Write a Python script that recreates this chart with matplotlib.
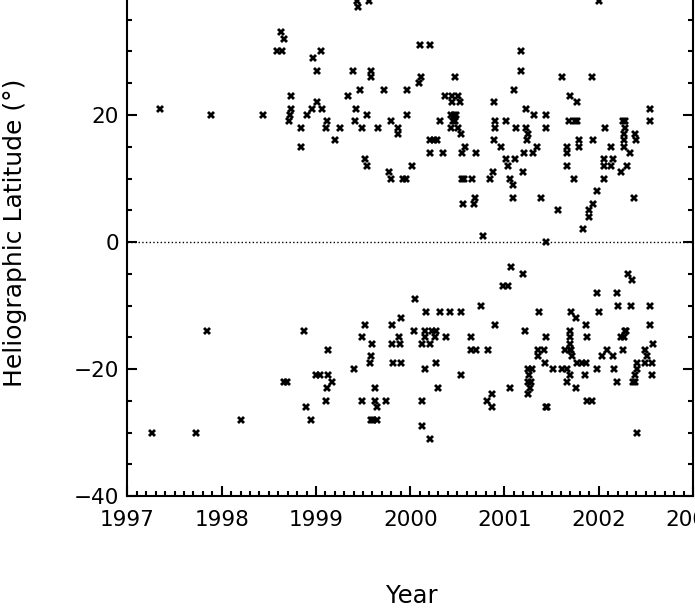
import numpy as np
import matplotlib
matplotlib.use("Agg")
import matplotlib.pyplot as plt
from matplotlib.ticker import MultipleLocator

# northern hemisphere events: decimal year, latitude (deg)
north_year = [
    1997.35, 1997.89, 1998.44,
    1999.44, 1999.56, 1999.45, 1998.63, 1998.66, 1998.59, 1998.64, 1998.97,
    1999.05, 1999.01, 1999.39, 1999.58, 1999.58, 1999.47, 1999.72, 1999.97,
    1998.74, 1999.34, 1999.01, 1998.74, 1998.96, 1999.06, 1999.43, 1998.72,
    1998.90, 1999.54, 1999.97, 1998.71, 1999.12, 1999.41, 1999.80, 1998.84,
    1999.11, 1999.25, 1999.49, 1999.66, 1999.87, 1999.87, 1999.20, 1998.84,
    1999.52, 1999.54, 1999.78, 1999.80, 1999.92, 1999.96,
    2000.10, 2000.21, 2001.18, 2001.18, 2000.11, 2000.09, 2000.47, 2001.10,
    2000.37, 2000.44, 2000.51, 2000.44, 2000.53, 2000.89, 2001.23, 2000.43,
    2000.46, 2000.49, 2001.31, 2001.44, 2000.32, 2000.45, 2000.47, 2000.90,
    2001.02, 2000.43, 2000.51, 2000.90, 2001.12, 2001.23, 2001.44, 2000.54,
    2001.25, 2000.21, 2000.25, 2000.28, 2000.89, 2001.24, 2000.58, 2000.96,
    2001.35, 2000.21, 2000.35, 2000.55, 2000.70, 2001.21, 2001.30, 2001.02,
    2001.11, 2000.02, 2001.04, 2000.88, 2001.20, 2000.55, 2000.57, 2000.66,
    2000.85, 2001.06, 2001.09, 2000.69, 2001.09, 2001.39, 2000.56, 2000.68,
    2000.77, 2001.44,
    2002.00, 2001.61, 2001.93, 2001.69, 2001.77, 2002.54, 2001.68, 2001.75,
    2001.77, 2002.26, 2002.28, 2002.54, 2002.07, 2002.28, 2002.27, 2002.38,
    2001.79, 2001.79, 2001.94, 2002.40, 2002.27, 2001.66, 2002.13, 2002.27,
    2001.66, 2002.33, 2002.06, 2002.15, 2001.66, 2002.06, 2002.13, 2002.30,
    2002.24, 2001.74, 2002.06, 2001.98, 2002.37, 2001.94, 2001.57, 2001.90,
    2001.90, 2001.83,
]
north_lat = [
    21, 20, 20,
    38, 38, 37, 33, 32, 30, 30, 29,
    30, 27, 27, 27, 26, 24, 24, 24,
    23, 23, 22, 21, 21, 21, 21, 20,
    20, 20, 20, 19, 19, 19, 19, 18,
    18, 18, 18, 18, 18, 17, 16, 15,
    13, 12, 11, 10, 10, 10,
    31, 31, 30, 27, 26, 25, 26, 24,
    23, 23, 23, 22, 22, 22, 21, 20,
    20, 20, 20, 20, 19, 19, 19, 19,
    19, 18, 18, 18, 18, 18, 18, 17,
    17, 16, 16, 16, 16, 16, 15, 15,
    15, 14, 14, 14, 14, 14, 14, 13,
    13, 12, 12, 11, 11, 10, 10, 10,
    10, 10, 9, 7, 7, 7, 6, 6,
    1, 0,
    38, 26, 26, 23, 22, 21, 19, 19,
    19, 19, 19, 19, 18, 18, 17, 17,
    16, 15, 16, 16, 16, 15, 15, 15,
    14, 14, 13, 13, 12, 12, 12, 12,
    11, 10, 10, 8, 7, 6, 5, 5,
    4, 2,
]

# southern hemisphere events
south_year = [
    1997.26, 1997.73, 1997.84, 1998.21,
    1998.87, 1999.13, 1999.00, 1999.04, 1999.13, 1998.66, 1998.69, 1999.17,
    1999.12, 1999.11, 1998.89, 1998.95, 1999.52, 1999.81, 1999.90, 1999.49,
    1999.88, 1999.59, 1999.81, 1999.89, 1999.58, 1999.57, 1999.82, 1999.90,
    1999.40, 1999.63, 1999.49, 1999.63, 1999.74, 1999.65, 1999.58, 1999.61,
    1999.65,
    2001.07, 2001.20, 2000.98, 2001.04, 2000.05, 2000.75, 2000.17, 2000.32,
    2000.42, 2000.54, 2001.37, 2000.90, 2000.04, 2000.16, 2000.23, 2000.27,
    2001.22, 2000.16, 2000.26, 2000.38, 2000.64, 2001.44, 2000.13, 2000.21,
    2000.64, 2000.70, 2000.83, 2001.36, 2001.42, 2001.36, 2000.27, 2001.43,
    2000.16, 2001.25, 2001.29, 2000.54, 2001.26, 2001.25, 2001.28, 2000.30,
    2001.06, 2001.27, 2000.87, 2001.25, 2000.12, 2000.82, 2000.87, 2001.44,
    2000.12, 2000.21,
    2002.31, 2002.35, 2001.98, 2002.19, 2002.20, 2002.34, 2002.54, 2001.71,
    2002.00, 2001.76, 2001.87, 2002.54, 2001.70, 2002.28, 2002.29, 2001.69,
    2001.88, 2002.24, 2002.27, 2001.69, 2002.58, 2001.64, 2001.69, 2001.71,
    2002.09, 2002.26, 2002.49, 2001.72, 2002.03, 2002.15, 2002.51, 2001.77,
    2001.82, 2001.86, 2002.41, 2002.49, 2002.56, 2001.51, 2001.61, 2001.66,
    2001.98, 2002.16, 2002.41, 2001.70, 2001.85, 2002.38, 2002.56, 2001.66,
    2002.19, 2002.36, 2002.39, 2001.76, 2001.88, 2001.93, 2001.45, 2002.41,
]
south_lat = [
    -30, -30, -14, -28,
    -14, -17, -21, -21, -21, -22, -22, -22,
    -23, -25, -26, -28, -13, -13, -12, -15,
    -15, -16, -16, -16, -18, -19, -19, -19,
    -20, -23, -25, -25, -25, -26, -28, -28,
    -28,
    -4, -5, -7, -7, -9, -10, -11, -11,
    -11, -11, -11, -13, -14, -14, -14, -14,
    -14, -15, -15, -15, -15, -15, -16, -16,
    -17, -17, -17, -17, -17, -18, -19, -19,
    -20, -20, -20, -21, -21, -22, -22, -23,
    -23, -23, -24, -24, -25, -25, -26, -26,
    -29, -31,
    -5, -6, -8, -8, -10, -10, -10, -11,
    -11, -12, -13, -13, -14, -14, -14, -15,
    -15, -15, -15, -16, -16, -17, -17, -17,
    -17, -17, -17, -18, -18, -18, -18, -19,
    -19, -19, -19, -19, -19, -20, -20, -20,
    -20, -20, -20, -21, -21, -21, -21, -22,
    -22, -22, -22, -23, -25, -25, -26, -30,
]

plt.rcParams['font.family'] = ['DejaVu Sans']

fig = plt.figure(figsize=(6.95, 6.10), dpi=100)
# axes runs off the top of the canvas, like the cropped original
ax = fig.add_axes([127.4 / 695, 114 / 610, (693 - 127.4) / 695, 508 / 610])

ax.plot(north_year, north_lat, linestyle='none', marker='X', ms=5.5,
        color='black', mew=0)
ax.plot(south_year, south_lat, linestyle='none', marker='X', ms=5.5,
        color='black', mew=0)
ax.axhline(0, color='black', lw=1, linestyle=':')

ax.set_xlim(1997, 2003)
ax.set_ylim(-40, 40)
ax.xaxis.set_major_locator(MultipleLocator(1))
ax.xaxis.set_minor_locator(MultipleLocator(0.1))
ax.yaxis.set_major_locator(MultipleLocator(20))
ax.yaxis.set_minor_locator(MultipleLocator(5))
ax.xaxis.set_major_formatter(plt.FuncFormatter(lambda v, p: f"{int(round(v))}"))

ax.tick_params(which='both', direction='in', top=True, right=True,
               width=1.5, labelsize=15.5)
ax.tick_params(which='major', length=7)
ax.tick_params(which='minor', length=3.5)
ax.tick_params(axis='x', pad=10)
ax.tick_params(axis='y', pad=6)
for s in ax.spines.values():
    s.set_linewidth(1.5)

ax.set_xlabel('Year', fontsize=17.5)
ax.set_ylabel('Heliographic Latitude (°)', fontsize=18)
ax.xaxis.set_label_coords(0.503, -0.173)
ax.yaxis.set_label_coords(-0.177, 0.518)

fig.savefig('out.png', dpi=100)
